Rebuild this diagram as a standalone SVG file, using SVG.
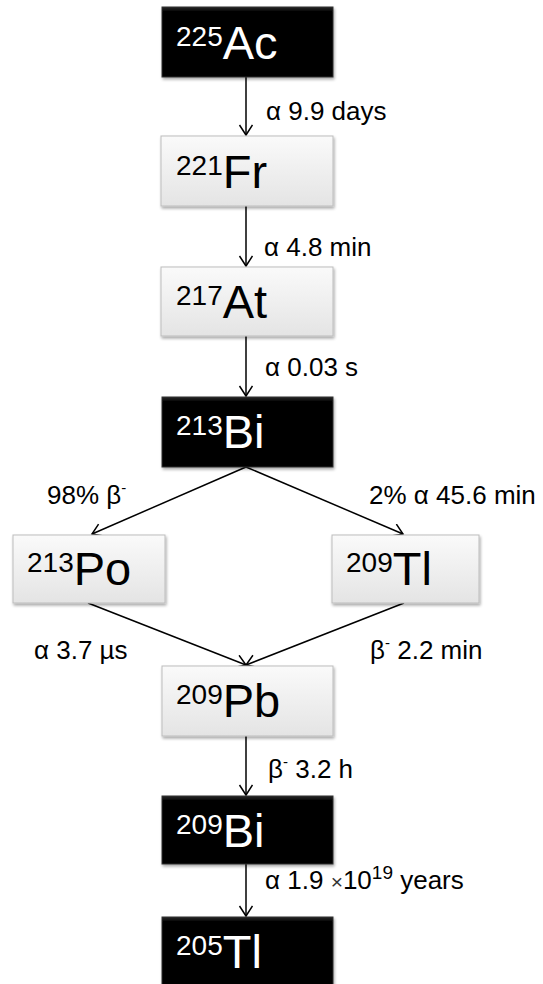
<svg xmlns="http://www.w3.org/2000/svg" width="543" height="984" viewBox="0 0 543 984">
  <style>
    .lbl { font-family: "Liberation Sans", Arial, sans-serif; font-size: 26px; fill: #000; }
    .sym { font-family: "Liberation Sans", Arial, sans-serif; font-size: 47px; }
    .iso { font-size: 28px; }
    .light rect { fill: url(#gLight); stroke: #bdbdbd; stroke-width: 1; filter: url(#shadow); }
    .light text { fill: #000; }
    .dark rect { fill: url(#gDark); stroke: #333; stroke-width: 1; filter: url(#shadow); }
    .dark text { fill: #fff; }
    .conn line { stroke: #000; stroke-width: 1.5; fill: none; marker-end: url(#arrow); }
  </style>
  <defs>
    <linearGradient id="gLight" x1="0" y1="0" x2="0" y2="1">
      <stop offset="0" stop-color="#fafafa"/>
      <stop offset="1" stop-color="#e4e4e4"/>
    </linearGradient>
    <linearGradient id="gDark" x1="0" y1="0" x2="0" y2="1">
      <stop offset="0" stop-color="#262626"/>
      <stop offset="0.07" stop-color="#000"/>
      <stop offset="1" stop-color="#000"/>
    </linearGradient>
    <filter id="shadow" x="-10%" y="-10%" width="125%" height="130%">
      <feGaussianBlur in="SourceAlpha" stdDeviation="1.6"/>
      <feOffset dx="1" dy="2" result="b"/>
      <feComponentTransfer><feFuncA type="linear" slope="0.35"/></feComponentTransfer>
      <feMerge><feMergeNode/><feMergeNode in="SourceGraphic"/></feMerge>
    </filter>
    <marker id="arrow" markerUnits="userSpaceOnUse" markerWidth="16" markerHeight="16" refX="11" refY="7" orient="auto">
      <path d="M1,0.5 L11,7 L1,13.5" fill="none" stroke="#000" stroke-width="1.5"/>
    </marker>
  </defs>

  <!-- decay connectors -->
  <g id="connectors" class="conn">
    <line x1="246" y1="77" x2="246" y2="135"/>
    <line x1="246" y1="206" x2="246" y2="266"/>
    <line x1="246" y1="336" x2="246" y2="396"/>
    <line x1="246" y1="467" x2="92" y2="534"/>
    <line x1="246" y1="467" x2="403" y2="534"/>
    <line x1="88" y1="603" x2="246" y2="665"/>
    <line x1="404" y1="603" x2="246" y2="665"/>
    <line x1="246" y1="736" x2="246" y2="795"/>
    <line x1="246" y1="864" x2="246" y2="916"/>
  </g>

  <!-- decay mode and half-life labels -->
  <g id="labels" class="lbl">
    <text x="266" y="120">α 9.9 days</text>
    <text x="264" y="256">α 4.8 min</text>
    <text x="265" y="376">α 0.03 s</text>
    <text x="47" y="504">98% β<tspan font-size="15" dy="-11">-</tspan></text>
    <text x="369" y="504">2% α 45.6 min</text>
    <text x="34" y="659">α 3.7 µs</text>
    <text x="370" y="659">β<tspan font-size="15" dy="-11">-</tspan><tspan dy="11"> 2.2 min</tspan></text>
    <text x="268" y="778">β<tspan font-size="15" dy="-11">-</tspan><tspan dy="11"> 3.2 h</tspan></text>
    <text x="265" y="889">α 1.9 <tspan font-size="21" fill="#333">×</tspan>10<tspan font-size="19" dy="-10">19</tspan><tspan dy="10"> years</tspan></text>
  </g>

  <!-- nuclides -->
  <g id="ac225" class="dark">
    <rect x="162" y="7" width="171" height="70"/>
    <text class="sym" x="176" y="59"><tspan class="iso" dy="-13">225</tspan><tspan dy="13">Ac</tspan></text>
  </g>
  <g id="fr221" class="light">
    <rect x="161" y="136" width="172" height="70"/>
    <text class="sym" x="176" y="188"><tspan class="iso" dy="-13">221</tspan><tspan dy="13">Fr</tspan></text>
  </g>
  <g id="at217" class="light">
    <rect x="161" y="267" width="172" height="69"/>
    <text class="sym" x="176" y="318"><tspan class="iso" dy="-13">217</tspan><tspan dy="13">At</tspan></text>
  </g>
  <g id="bi213" class="dark">
    <rect x="162" y="397" width="171" height="70"/>
    <text class="sym" x="176" y="448"><tspan class="iso" dy="-13">213</tspan><tspan dy="13">Bi</tspan></text>
  </g>
  <g id="po213" class="light">
    <rect x="13" y="535" width="152" height="68"/>
    <text class="sym" x="27" y="585"><tspan class="iso" dy="-13">213</tspan><tspan dy="13">Po</tspan></text>
  </g>
  <g id="tl209" class="light">
    <rect x="332" y="535" width="147" height="68"/>
    <text class="sym" x="346" y="585"><tspan class="iso" dy="-13">209</tspan><tspan dy="13">Tl</tspan></text>
  </g>
  <g id="pb209" class="light">
    <rect x="162" y="666" width="171" height="70"/>
    <text class="sym" x="176" y="717"><tspan class="iso" dy="-13">209</tspan><tspan dy="13">Pb</tspan></text>
  </g>
  <g id="bi209" class="dark">
    <rect x="162" y="796" width="171" height="68"/>
    <text class="sym" x="176" y="847"><tspan class="iso" dy="-13">209</tspan><tspan dy="13">Bi</tspan></text>
  </g>
  <g id="tl205" class="dark">
    <rect x="162" y="917" width="171" height="72"/>
    <text class="sym" x="176" y="968"><tspan class="iso" dy="-13">205</tspan><tspan dy="13">Tl</tspan></text>
  </g>
</svg>
